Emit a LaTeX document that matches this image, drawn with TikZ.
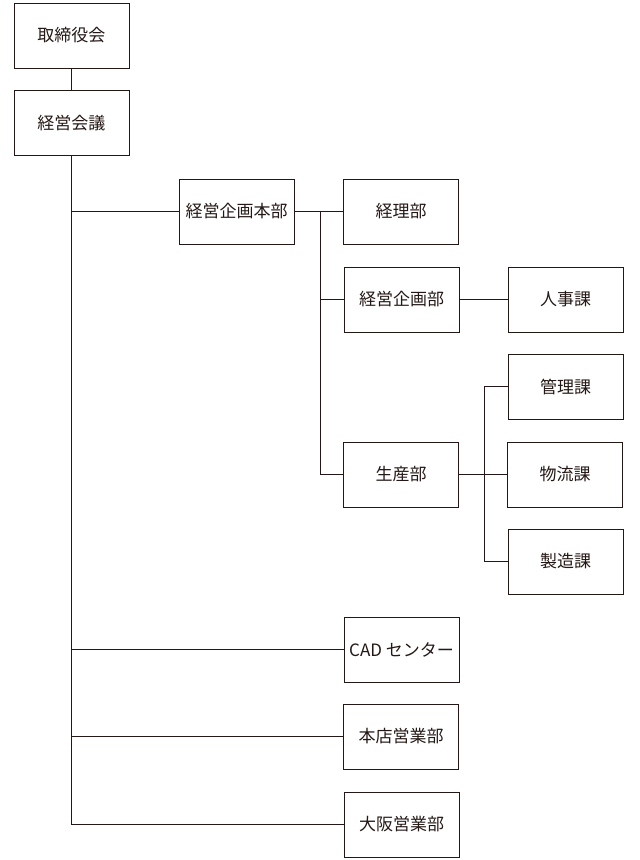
\documentclass[tikz,border=0pt]{standalone}
\usepackage{fontspec}
\setmainfont{Noto Sans CJK JP}
\usepackage{xcolor}
\definecolor{ink}{HTML}{231815}

\begin{document}
\begin{tikzpicture}[x=1pt, y=-1pt,
        unitbox/.style={draw=ink, line width=1pt, minimum width=115pt, minimum height=65pt,
            inner sep=0pt, text=ink, font=\fontsize{17}{20}\selectfont},
        link/.style={draw=ink, line width=1pt}]
    \useasboundingbox (0, 0) rectangle (640, 860);
    % top level
    \node[unitbox] (torishimari) at (71.5, 35.5) {取締役会};
    \node[unitbox] (kaigi) at (71.5, 123) {経営会議};
    % divisions
    \node[unitbox] (honbu) at (236.5, 211.5) {経営企画本部};
    \node[unitbox] (keiri) at (401, 211.5) {経理部};
    \node[unitbox] (kikaku) at (401.5, 299.5) {経営企画部};
    \node[unitbox] (jinji) at (565.5, 299.5) {人事課};
    \node[unitbox] (seisan) at (401, 474.5) {生産部};
    \node[unitbox] (kanri) at (565.5, 386.5) {管理課};
    \node[unitbox] (butsuryu) at (565, 474.5) {物流課};
    \node[unitbox] (seizo) at (565.5, 561.5) {製造課};
    \node[unitbox] (cad) at (401.5, 649.5) {CAD センター};
    \node[unitbox] (honten) at (401, 736.5) {本店営業部};
    \node[unitbox] (osaka) at (401.5, 824.5) {大阪営業部};
    \coordinate (bus1) at (320, 211.5);
    \coordinate (bus2) at (484, 474.5);
    % connectors
    \draw[link] (torishimari) -- (kaigi);
    \draw[link] (kaigi.south) |- (osaka.west);
    \draw[link] (kaigi.south |- honbu.west) -- (honbu.west);
    \draw[link] (kaigi.south |- cad.west) -- (cad.west);
    \draw[link] (kaigi.south |- honten.west) -- (honten.west);
    \draw[link] (honbu.east) -- (keiri.west);
    \draw[link] (bus1) |- (seisan.west);
    \draw[link] (bus1 |- kikaku.west) -- (kikaku.west);
    \draw[link] (kikaku) -- (jinji);
    \draw[link] (seisan.east) -- (butsuryu.west);
    \draw[link] (kanri.west) -| (bus2 |- seizo.west) -- (seizo.west);
\end{tikzpicture}
\end{document}
